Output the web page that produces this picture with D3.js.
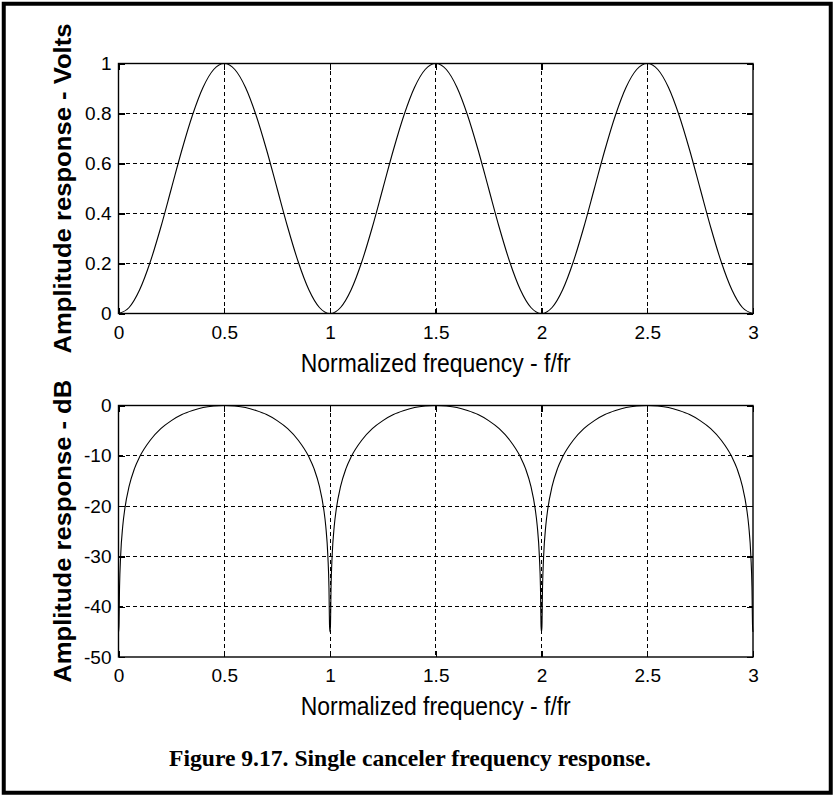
<!DOCTYPE html>
<html>
<head>
<meta charset="utf-8">
<script src="https://cdn.jsdelivr.net/npm/d3@7/dist/d3.min.js"></script>
<style>
  body { margin: 0; background: #fff; }
  svg { display: block; }
  .tick text { font-family: "Liberation Sans", Arial, sans-serif; font-size: 19px; fill: #000; }
</style>
</head>
<body>
<svg id="chart" width="837" height="801"></svg>
<script>
// values
var xTicks = [0, 0.5, 1, 1.5, 2, 2.5, 3];
var xTickLabels = ["0", "0.5", "1", "1.5", "2", "2.5", "3"];
var voltTicks = [0, 0.2, 0.4, 0.6, 0.8, 1];
var voltTickLabels = ["0", "0.2", "0.4", "0.6", "0.8", "1"];
var dbTicks = [-50, -40, -30, -20, -10, 0];
var dbTickLabels = ["-50", "-40", "-30", "-20", "-10", "0"];

var freqVolts = [0, 0.05, 0.1, 0.15, 0.2, 0.25, 0.3, 0.35, 0.4, 0.45, 0.5, 0.55, 0.6, 0.65, 0.7, 0.75, 0.8, 0.85, 0.9, 0.95,
  1, 1.05, 1.1, 1.15, 1.2, 1.25, 1.3, 1.35, 1.4, 1.45, 1.5, 1.55, 1.6, 1.65, 1.7, 1.75, 1.8, 1.85, 1.9, 1.95,
  2, 2.05, 2.1, 2.15, 2.2, 2.25, 2.3, 2.35, 2.4, 2.45, 2.5, 2.55, 2.6, 2.65, 2.7, 2.75, 2.8, 2.85, 2.9, 2.95, 3];
var ampVolts = [0, 0.024, 0.095, 0.206, 0.345, 0.5, 0.655, 0.794, 0.905, 0.976, 1, 0.976, 0.905, 0.794, 0.655, 0.5, 0.345, 0.206, 0.095, 0.024,
  0, 0.024, 0.095, 0.206, 0.345, 0.5, 0.655, 0.794, 0.905, 0.976, 1, 0.976, 0.905, 0.794, 0.655, 0.5, 0.345, 0.206, 0.095, 0.024,
  0, 0.024, 0.095, 0.206, 0.345, 0.5, 0.655, 0.794, 0.905, 0.976, 1, 0.976, 0.905, 0.794, 0.655, 0.5, 0.345, 0.206, 0.095, 0.024, 0];

var freqDb = [0, 0.002, 0.005, 0.01, 0.02, 0.03, 0.05, 0.075, 0.1, 0.15, 0.2, 0.25, 0.3, 0.35, 0.4, 0.45,
  0.5, 0.55, 0.6, 0.65, 0.7, 0.75, 0.8, 0.85, 0.9, 0.925, 0.95, 0.97, 0.98, 0.99, 0.995, 0.998,
  1, 1.002, 1.005, 1.01, 1.02, 1.03, 1.05, 1.075, 1.1, 1.15, 1.2, 1.25, 1.3, 1.35, 1.4, 1.45,
  1.5, 1.55, 1.6, 1.65, 1.7, 1.75, 1.8, 1.85, 1.9, 1.925, 1.95, 1.97, 1.98, 1.99, 1.995, 1.998,
  2, 2.002, 2.005, 2.01, 2.02, 2.03, 2.05, 2.075, 2.1, 2.15, 2.2, 2.25, 2.3, 2.35, 2.4, 2.45,
  2.5, 2.55, 2.6, 2.65, 2.7, 2.75, 2.8, 2.85, 2.9, 2.925, 2.95, 2.97, 2.98, 2.99, 2.995, 2.998, 3];
var ampDb = [-45, -44, -36, -30, -24, -20.5, -16.1, -12.6, -10.2, -6.9, -4.6, -3.0, -1.8, -1.0, -0.4, -0.1,
  0, -0.1, -0.4, -1.0, -1.8, -3.0, -4.6, -6.9, -10.2, -12.6, -16.1, -20.5, -24, -30, -36, -44,
  -45, -44, -36, -30, -24, -20.5, -16.1, -12.6, -10.2, -6.9, -4.6, -3.0, -1.8, -1.0, -0.4, -0.1,
  0, -0.1, -0.4, -1.0, -1.8, -3.0, -4.6, -6.9, -10.2, -12.6, -16.1, -20.5, -24, -30, -36, -44,
  -45, -44, -36, -30, -24, -20.5, -16.1, -12.6, -10.2, -6.9, -4.6, -3.0, -1.8, -1.0, -0.4, -0.1,
  0, -0.1, -0.4, -1.0, -1.8, -3.0, -4.6, -6.9, -10.2, -12.6, -16.1, -20.5, -24, -30, -36, -44, -45];

var svg = d3.select('#chart');

// outer figure frame
svg.append('rect')
    .attr('x', 3.75).attr('y', 3.75)
    .attr('width', 827).attr('height', 789)
    .attr('fill', 'none').attr('stroke', '#000').attr('stroke-width', 4);

var left = 118.5, right = 753;
var x = d3.scaleLinear().domain([0, 3]).range([left, right]);

var drawPanel = function(opts) {
    var y = d3.scaleLinear().domain(opts.domain).range([opts.bottom, opts.top]);
    var g = svg.append('g');

    // dashed grid
    g.selectAll('.vgrid')
        .data(xTicks.slice(1, -1))
        .enter().append('line')
        .attr('x1', function(d) { return x(d); }).attr('x2', function(d) { return x(d); })
        .attr('y1', opts.top).attr('y2', opts.bottom)
        .attr('stroke', '#000').attr('stroke-dasharray', '4,3')
        .attr('shape-rendering', 'crispEdges');
    g.selectAll('.hgrid')
        .data(opts.ticks.slice(1, -1))
        .enter().append('line')
        .attr('y1', function(d) { return y(d); }).attr('y2', function(d) { return y(d); })
        .attr('x1', left).attr('x2', right)
        .attr('stroke', '#000').attr('stroke-dasharray', '4,3')
        .attr('shape-rendering', 'crispEdges');

    // inward ticks on four sides
    var bottomAxis = d3.axisBottom(x).tickValues(xTicks).tickSize(-6).tickPadding(12)
        .tickFormat(function(d, i) { return xTickLabels[i]; });
    g.append('g').attr('transform', 'translate(0,' + opts.bottom + ')').call(bottomAxis);
    g.append('g').attr('transform', 'translate(0,' + opts.top + ')')
        .call(d3.axisTop(x).tickValues(xTicks).tickSize(-6).tickFormat(''));
    var leftAxis = d3.axisLeft(y).tickValues(opts.ticks).tickSize(-6).tickPadding(7)
        .tickFormat(function(d, i) { return opts.labels[i]; });
    g.append('g').attr('transform', 'translate(' + left + ',0)').call(leftAxis);
    g.append('g').attr('transform', 'translate(' + right + ',0)')
        .call(d3.axisRight(y).tickValues(opts.ticks).tickSize(-6).tickFormat(''));
    g.selectAll('.domain').remove();
    g.selectAll('.tick line').attr('stroke', '#000').attr('stroke-width', 1.2)
        .attr('shape-rendering', 'crispEdges');

    // the response curve
    var line = d3.line()
        .x(function(d, i) { return x(opts.xs[i]); })
        .y(function(d) { return y(d); })
        .curve(d3.curveMonotoneX);
    g.append('path')
        .datum(opts.ys)
        .attr('d', line)
        .attr('fill', 'none').attr('stroke', '#000').attr('stroke-width', 1.1);

    g.append('rect')
        .attr('x', left).attr('y', opts.top)
        .attr('width', right - left).attr('height', opts.bottom - opts.top)
        .attr('fill', 'none').attr('stroke', '#000').attr('stroke-width', 1.4);

    g.append('text')
        .attr('x', (left + right) / 2).attr('y', opts.bottom + 58)
        .attr('text-anchor', 'middle')
        .attr('textLength', 270).attr('lengthAdjust', 'spacingAndGlyphs')
        .style('font-family', '"Liberation Sans", Arial, sans-serif')
        .style('font-size', '25px')
        .text('Normalized frequency - f/fr');

    var cy = (opts.top + opts.bottom) / 2;
    g.append('text')
        .attr('transform', 'translate(71,' + cy + ') rotate(-90)')
        .attr('text-anchor', 'middle')
        .attr('textLength', opts.labelLen).attr('lengthAdjust', 'spacingAndGlyphs')
        .style('font-family', '"Liberation Sans", Arial, sans-serif')
        .style('font-size', '24px').style('font-weight', 'bold')
        .text(opts.ylabel);
};

drawPanel({ top: 63.5, bottom: 313.5, domain: [0, 1], ticks: voltTicks, labels: voltTickLabels,
    xs: freqVolts, ys: ampVolts, ylabel: 'Amplitude response - Volts', labelLen: 330 });
drawPanel({ top: 405.5, bottom: 657, domain: [-50, 0], ticks: dbTicks, labels: dbTickLabels,
    xs: freqDb, ys: ampDb, ylabel: 'Amplitude response - dB', labelLen: 303 });

svg.append('text')
    .attr('x', 410).attr('y', 766)
    .attr('text-anchor', 'middle')
    .attr('textLength', 482).attr('lengthAdjust', 'spacingAndGlyphs')
    .style('font-family', '"Liberation Serif", "Times New Roman", serif')
    .style('font-size', '24px').style('font-weight', 'bold')
    .text('Figure 9.17. Single canceler frequency response.');
</script>
</body>
</html>
